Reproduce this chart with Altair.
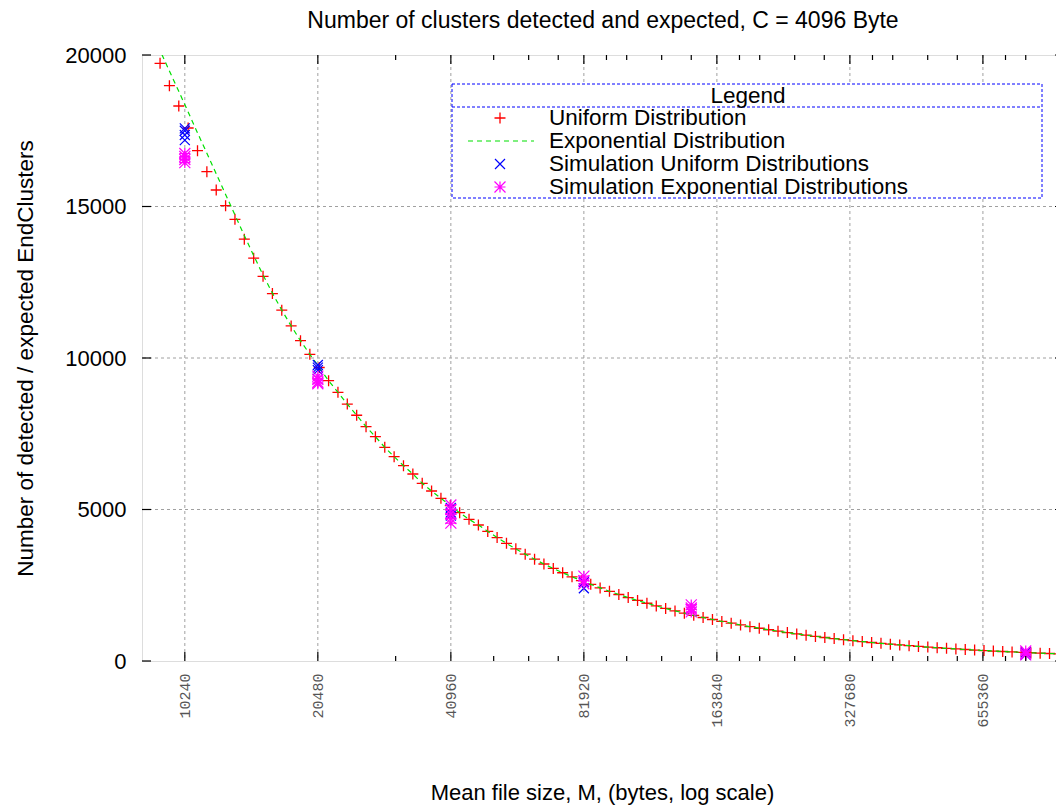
import altair as alt
import pandas as pd

# ---------------- data ----------------
M_uniform = [9000, 9450, 9923, 10419, 10940, 11487, 12061, 12664, 13297, 13962,
             14660, 15393, 16163, 16971, 17820, 18711, 19646, 20629, 21660, 22743,
             23880, 25074, 26328, 27644, 29027, 30478, 32002, 33602, 35282, 37046,
             38898, 40843, 42885, 45030, 47281, 49645, 52127, 54734, 57470, 60344,
             63361, 66529, 69856, 73348, 77016, 80867, 84910, 89156, 93613, 98294,
             103209, 108369, 113788, 119477, 125451, 131724, 138310, 145225, 152487, 160111,
             168116, 176522, 185348, 194616, 204346, 214564, 225292, 236557, 248384, 260804,
             273844, 287536, 301913, 317009, 332859, 349502, 366977, 385326, 404593, 424822,
             446063, 468366, 491785, 516374, 542193, 569302, 597768, 627656, 659039, 691991,
             726590, 762920, 801066, 841119, 883175, 927334, 973701]
N_uniform = [19726, 18987, 18317, 17591, 16842, 16149, 15545, 15026, 14578, 13922,
             13295, 12697, 12126, 11580, 11059, 10571, 10122, 9686, 9251, 8868,
             8480, 8110, 7733, 7403, 7053, 6743, 6446, 6172, 5865, 5611,
             5370, 5130, 4894, 4677, 4488, 4277, 4075, 3883, 3701, 3527,
             3360, 3201, 3054, 2913, 2779, 2651, 2529, 2412, 2301, 2195,
             2094, 1998, 1906, 1818, 1734, 1654, 1578, 1506, 1436, 1370,
             1307, 1247, 1189, 1134, 1081, 1031, 983, 937, 894, 852,
             812, 775, 739, 704, 672, 640, 611, 582, 555, 529,
             505, 481, 459, 438, 417, 398, 379, 362, 345, 329,
             314, 299, 285, 272, 259, 247, 236]

M_exp = [8571, 9000, 9450, 9923, 10419, 10940, 11487, 12061, 12664, 13297, 13962,
         14660, 15393, 16163, 16971, 17820, 18711, 19646, 20629, 21660, 22743,
         23880, 25074, 26328, 27644, 29027, 30478, 32002, 33602, 35282, 37046,
         38898, 40843, 42885, 45030, 47281, 49645, 52127, 54734, 57470, 60344,
         63361, 66529, 69856, 73348, 77016, 80867, 84910, 89156, 93613, 98294,
         103209, 108369, 113788, 119477, 125451, 131724, 138310, 145225, 152487, 160111,
         168116, 176522, 185348, 194616, 204346, 214564, 225292, 236557, 248384, 260804,
         273844, 287536, 301913, 317009, 332859, 349502, 366977, 385326, 404593, 424822,
         446063, 468366, 491785, 516374, 542193, 569302, 597768, 627656, 659039, 691991,
         726590, 762920, 801066, 841119, 883175, 927334, 973701, 1022386]
N_exp = [20830, 20150, 19470, 18800, 18120, 17430, 16760, 16080, 15400, 14720, 14040,
         13380, 12740, 12140, 11580, 11059, 10571, 10122, 9686, 9251, 8868,
         8480, 8110, 7733, 7403, 7053, 6743, 6446, 6172, 5865, 5611,
         5370, 5130, 4894, 4677, 4488, 4277, 4075, 3883, 3701, 3527,
         3360, 3201, 3054, 2913, 2779, 2651, 2529, 2412, 2301, 2195,
         2094, 1998, 1906, 1818, 1734, 1654, 1578, 1506, 1436, 1370,
         1307, 1247, 1189, 1134, 1081, 1031, 983, 937, 894, 852,
         812, 775, 739, 704, 672, 640, 611, 582, 555, 529,
         505, 481, 459, 438, 417, 398, 379, 362, 345, 329,
         314, 299, 285, 272, 259, 247, 236, 225]

sim_uni_M = [10240, 10240, 10240, 10240, 20480, 20480, 20480, 40960, 40960, 40960,
             81920, 81920, 819200, 819200]
sim_uni_N = [17580, 17500, 17360, 17190, 9770, 9680, 9600, 5050, 4900, 4800,
             2600, 2400, 280, 200]

sim_exp_M = [10240, 10240, 10240, 10240, 20480, 20480, 20480, 20480,
             40960, 40960, 40960, 40960, 40960, 81920, 81920, 81920,
             143360, 143360, 143360, 143360, 819200, 819200, 819200]
sim_exp_N = [16750, 16650, 16550, 16450, 9400, 9300, 9200, 9150,
             5150, 5000, 4850, 4700, 4550, 2800, 2650, 2550,
             1850, 1750, 1700, 1620, 330, 250, 200]

x_major = [10240, 20480, 40960, 81920, 163840, 327680, 655360]
x_minor = [30720, 51200, 61440, 71680, 92160, 102400, 122880, 143360,
           184320, 204800, 245760, 286720, 368640, 409600, 491520, 573440,
           737280, 819200, 983040]
y_ticks = [0, 5000, 10000, 15000, 20000]
y_grid = [5000, 10000, 15000]

legend_labels = ["Uniform Distribution", "Exponential Distribution",
                 "Simulation Uniform Distributions", "Simulation Exponential Distributions"]

# ---------------- layout / style ----------------
W, H = 922, 606
SANS = "Liberation Sans"
PLUS = "M-1,0L1,0M0,-1L0,1"
CROSS = "M-1,-1L1,1M-1,1L1,-1"
STAR = "M-1,0L1,0M0,-1L0,1M-1,-1L1,1M-1,1L1,-1"
RED, GREEN, BLUE, MAGENTA = "#ff0000", "#00e000", "#0000ff", "#ff00ff"
row_y = [63, 86, 109, 132]

xscale = alt.Scale(type="log", domain=[8192, 1000000], nice=False)
yscale = alt.Scale(domain=[0, 20000], nice=False, zero=False)

df_uni = pd.DataFrame({"M": M_uniform, "N": N_uniform})
df_exp = pd.DataFrame({"M": M_exp, "N": N_exp})
df_su = pd.DataFrame({"M": sim_uni_M, "N": sim_uni_N})
df_se = pd.DataFrame({"M": sim_exp_M, "N": sim_exp_N})
df_xmaj = pd.DataFrame({"M": x_major})
df_xmin = pd.DataFrame({"M": x_minor})
df_yt = pd.DataFrame({"N": y_ticks})
df_yg = pd.DataFrame({"N": y_grid})
df_leg = pd.DataFrame({"label": legend_labels})
df_title = pd.DataFrame({"label": ["Legend"]})

x_axis = alt.Axis(values=x_major, format="d", labelAngle=270, labelFont="Liberation Mono",
                  labelFontSize=15, labelColor="#555555", labelPadding=12,
                  labelOverlap=False, labelFlush=False, ticks=False, tickSize=0,
                  domain=False, grid=False,
                  title="Mean file size, M, (bytes, log scale)", titleFont=SANS,
                  titleFontSize=22, titleFontWeight="normal", titleColor="black",
                  titleX=460, titleY=138, titleBaseline="alphabetic", titleAlign="center")
y_axis = alt.Axis(values=y_ticks, format="d", labelFont=SANS, labelFontSize=22,
                  labelColor="black", labelPadding=16, ticks=False, tickSize=0,
                  domain=False, grid=False,
                  title="Number of detected / expected EndClusters", titleFont=SANS,
                  titleFontSize=22.5, titleFontWeight="normal", titleColor="black",
                  titleAngle=270, titleX=-110, titleY=303, titleBaseline="alphabetic",
                  titleAlign="center")

X = alt.X("M:Q", scale=xscale, axis=x_axis)
Y = alt.Y("N:Q", scale=yscale, axis=y_axis)

grid_x = alt.Chart(df_xmaj).mark_rule(color="#a0a0a0", strokeDash=[3, 3], strokeWidth=1).encode(x=X)
grid_y = alt.Chart(df_yg).mark_rule(color="#a0a0a0", strokeDash=[3, 3], strokeWidth=1).encode(y=Y)

uni = alt.Chart(df_uni).mark_point(shape=PLUS, filled=False, color=RED, size=121,
                                   strokeWidth=1.3, opacity=1).encode(x=X, y=Y)
expo = alt.Chart(df_exp).mark_line(color=GREEN, strokeDash=[5, 4], strokeWidth=1.2,
                                   clip=True).encode(x=X, y=Y)
su = alt.Chart(df_su).mark_point(shape=CROSS, filled=False, color=BLUE, size=100,
                                 strokeWidth=1.2, opacity=1).encode(x=X, y=Y)
se = alt.Chart(df_se).mark_point(shape=STAR, filled=False, color=MAGENTA, size=121,
                                 strokeWidth=1.2, opacity=1).encode(x=X, y=Y)

def xticks(df, y0, y1):
    return alt.Chart(df).mark_rule(color="black", strokeWidth=1.2).encode(
        x=X, y=alt.value(y0), y2=alt.value(y1))

def yticks(x0, x1):
    return alt.Chart(df_yt).mark_rule(color="black", strokeWidth=1.2).encode(
        y=Y, x=alt.value(x0), x2=alt.value(x1))

tick_layers = [xticks(df_xmaj, H, H - 9), xticks(df_xmin, H, H - 5),
               xticks(df_xmaj, 0, 9), xticks(df_xmin, 0, 5),
               yticks(0, 9), yticks(W, W - 9)]

# legend (drawn by hand, gnuplot style)
leg_box = alt.Chart(df_title).mark_rect(fill="white", stroke=BLUE, strokeDash=[3, 2],
                                        strokeWidth=1).encode(
    x=alt.value(310), x2=alt.value(900), y=alt.value(29), y2=alt.value(143))
leg_sep = alt.Chart(df_title).mark_rule(color=BLUE, strokeDash=[3, 2], strokeWidth=1).encode(
    x=alt.value(310), x2=alt.value(900), y=alt.value(52))
leg_title = alt.Chart(df_title).mark_text(font=SANS, fontSize=22.5, color="black",
                                          align="center", baseline="middle").encode(
    x=alt.value(606), y=alt.value(41), text="label:N")
leg_layers = [leg_box, leg_sep, leg_title]
for i, lab in enumerate(legend_labels):
    leg_layers.append(
        alt.Chart(df_leg).transform_filter(alt.datum.label == lab).mark_text(
            font=SANS, fontSize=22.5, color="black", align="left", baseline="middle").encode(
            x=alt.value(407), y=alt.value(row_y[i]), text="label:N"))
leg_layers.append(alt.Chart(df_title).mark_point(shape=PLUS, filled=False, color=RED,
                                                 size=121, strokeWidth=1.3, opacity=1).encode(
    x=alt.value(358), y=alt.value(row_y[0])))
leg_layers.append(alt.Chart(df_title).mark_rule(color=GREEN, strokeDash=[5, 4],
                                                strokeWidth=1.2).encode(
    x=alt.value(326), x2=alt.value(392), y=alt.value(row_y[1])))
leg_layers.append(alt.Chart(df_title).mark_point(shape=CROSS, filled=False, color=BLUE,
                                                 size=100, strokeWidth=1.2, opacity=1).encode(
    x=alt.value(358), y=alt.value(row_y[2])))
leg_layers.append(alt.Chart(df_title).mark_point(shape=STAR, filled=False, color=MAGENTA,
                                                 size=121, strokeWidth=1.2, opacity=1).encode(
    x=alt.value(358), y=alt.value(row_y[3])))

chart = alt.layer(grid_x, grid_y, uni, expo, su, se, *tick_layers, *leg_layers).properties(
    width=W, height=H,
    title=alt.TitleParams(text="Number of clusters detected and expected, C = 4096 Byte",
                          font=SANS, fontSize=23, fontWeight="normal", color="black",
                          anchor="middle", frame="group", offset=11),
    autosize=alt.AutoSizeParams(type="none"),
    padding={"left": 134, "top": 47, "right": -8, "bottom": 146},
).configure_view(stroke="black", strokeWidth=1.5).configure(background="white")

chart.save("out.html", embed_options={"renderer": "svg", "actions": False})
